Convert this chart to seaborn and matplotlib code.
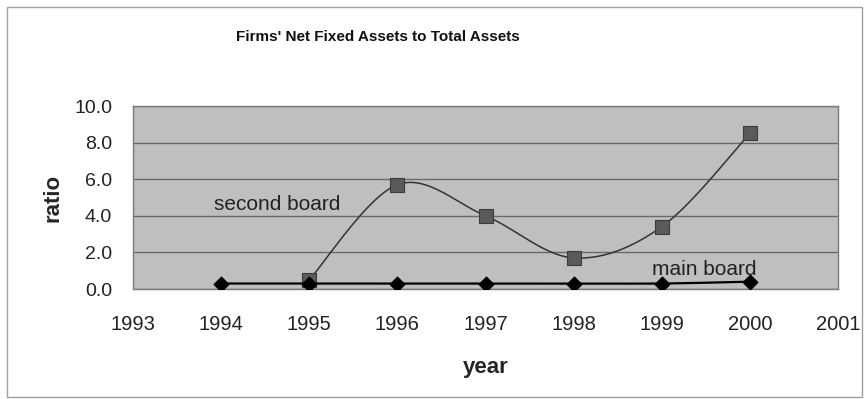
import numpy as np
import pandas as pd
import matplotlib
matplotlib.use("Agg")
import matplotlib.pyplot as plt
import seaborn as sns
from matplotlib.patches import Rectangle
from matplotlib import font_manager

# ---- data ----
main_years = [1994, 1995, 1996, 1997, 1998, 1999, 2000]
main_ratio = [0.3, 0.3, 0.3, 0.3, 0.3, 0.3, 0.4]
second_years = [1995, 1996, 1997, 1998, 1999, 2000]
second_ratio = [0.5, 5.7, 4.0, 1.7, 3.4, 8.5]
x_ticks = [1993, 1994, 1995, 1996, 1997, 1998, 1999, 2000, 2001]
y_ticks = [0, 2, 4, 6, 8, 10]
title = "Firms' Net Fixed Assets to Total Assets"

sns.set_theme(style="white")
plt.rcParams['font.family'] = ['Liberation Sans', 'DejaVu Sans']

installed = {f.name for f in font_manager.fontManager.ttflist}
has_narrow = 'Liberation Sans Narrow' in installed


def smooth(xs, ys, n=30):
    """Catmull-Rom style smoothing (as spreadsheet 'smoothed line')."""
    xs = np.asarray(xs, float)
    ys = np.asarray(ys, float)
    px = np.concatenate([[xs[0]], xs, [xs[-1]]])
    py = np.concatenate([[ys[0]], ys, [ys[-1]]])
    ox, oy = [], []
    for i in range(1, len(px) - 2):
        p0 = np.array([px[i - 1], py[i - 1]])
        p1 = np.array([px[i], py[i]])
        p2 = np.array([px[i + 1], py[i + 1]])
        p3 = np.array([px[i + 2], py[i + 2]])
        c1 = p1 + (p2 - p0) / 6.0
        c2 = p2 - (p3 - p1) / 6.0
        t = np.linspace(0, 1, n)[:, None]
        b = ((1 - t) ** 3) * p1 + 3 * ((1 - t) ** 2) * t * c1 + 3 * (1 - t) * t ** 2 * c2 + t ** 3 * p2
        ox.extend(b[:, 0]); oy.extend(b[:, 1])
    return np.array(ox), np.array(oy)


fig = plt.figure(figsize=(8.67, 3.99), dpi=100)
fig.patch.set_facecolor("white")
ax = fig.add_axes([133 / 867, 1 - 289 / 399, (838 - 133) / 867, (289 - 106) / 399])
ax.set_facecolor("#bfbfbf")

# outer chart frame
fig.patches.append(Rectangle((7 / 867, 2 / 399), (862 - 7) / 867, (397 - 7) / 399,
                             transform=fig.transFigure, fill=False,
                             edgecolor="#a0a0a0", linewidth=1.0))

for yv in y_ticks:
    ax.axhline(yv, color="#6a6a6a", linewidth=1.0, zorder=1)

sx, sy = smooth(second_years, second_ratio)
sns.lineplot(x=sx, y=sy, ax=ax, color="#333333", linewidth=1.1, sort=False,
             estimator=None, zorder=3)
sns.scatterplot(x=second_years, y=second_ratio, ax=ax, marker="s", s=115,
                color="#5a5a5a", edgecolor="#3c3c3c", linewidth=0.8, zorder=4)

mx, my = smooth(main_years, main_ratio)
sns.lineplot(x=mx, y=my, ax=ax, color="black", linewidth=1.6, sort=False,
             estimator=None, zorder=5)
sns.scatterplot(x=main_years, y=main_ratio, ax=ax, marker="D", s=60,
                color="black", edgecolor="black", zorder=6)

ax.set_xlim(1993, 2001)
ax.set_ylim(0, 10)
ax.set_xticks(x_ticks)
ax.set_xticklabels([str(v) for v in x_ticks], fontsize=14.5, color="#222222")
ax.set_yticks(y_ticks)
ax.set_yticklabels([f"{v:.1f}" for v in y_ticks], fontsize=14, color="#222222")
ax.tick_params(axis="both", length=3, width=0.8, color="#555555")
ax.tick_params(axis="x", pad=16)
ax.tick_params(axis="y", pad=12)

for sp in ax.spines.values():
    sp.set_color("#7a7a7a")
    sp.set_linewidth(1.0)

ax.set_xlabel("year", fontsize=16, fontweight="bold", labelpad=16)
ax.set_ylabel("ratio", fontsize=16, fontweight="bold", labelpad=8)

if has_narrow:
    fig.text(378 / 867, 1 - 37 / 399, title, fontsize=13.2, fontweight="bold",
             family=['Liberation Sans Narrow', 'DejaVu Sans'],
             ha="center", va="center", color="#111111")
else:
    fig.text(378 / 867, 1 - 37 / 399, title, fontsize=11, fontweight="bold",
             ha="center", va="center", color="#111111")

ax.text(1994.64, 4.3, "second board", fontsize=15, color="#222222",
        ha="center", va="baseline", zorder=7)
ax.text(1999.48, 0.77, "main board", fontsize=15, color="#222222",
        ha="center", va="baseline", zorder=7)

fig.savefig("out.png", dpi=100)
